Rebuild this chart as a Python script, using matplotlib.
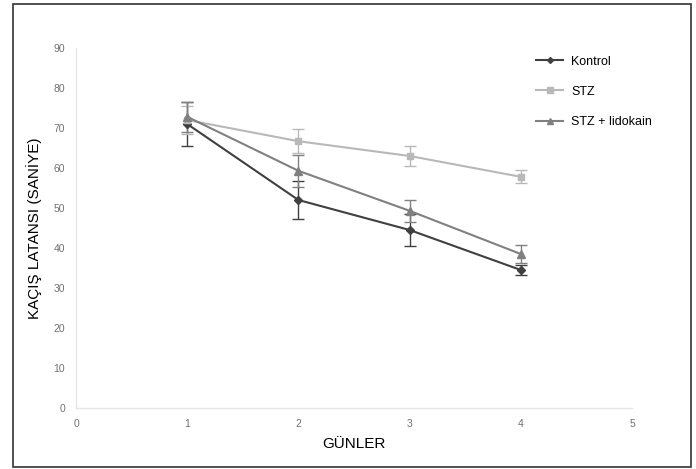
import matplotlib.pyplot as plt
from matplotlib.lines import Line2D
from matplotlib.patches import Rectangle

days = [1, 2, 3, 4]
series_names = ["Kontrol", "STZ", "STZ + lidokain"]

kontrol = [71.0, 52.0, 44.5, 34.5]
kontrol_err = [5.5, 4.8, 4.0, 1.2]

stz = [72.0, 66.7, 63.0, 57.8]
stz_err = [3.5, 3.0, 2.6, 1.6]

lidokain = [72.8, 59.3, 49.3, 38.5]
lidokain_err = [3.8, 4.0, 2.7, 2.2]

x_ticks = [0, 1, 2, 3, 4, 5]
y_ticks = [0, 10, 20, 30, 40, 50, 60, 70, 80, 90]

plt.rcParams['font.family'] = ['Liberation Sans', 'DejaVu Sans']

fig = plt.figure(figsize=(6.96, 4.69), dpi=100)
ax = fig.add_axes([76 / 696, 1 - 408 / 469, (632 - 76) / 696, (408 - 48) / 469])

styles = [
    (kontrol, kontrol_err, '#404040', 'D', 4),
    (stz, stz_err, '#b8b8b8', 's', 5),
    (lidokain, lidokain_err, '#808080', '^', 6),
]

handles = []
for name, (vals, errs, color, marker, ms) in zip(series_names, styles):
    ax.errorbar(days, vals, yerr=errs, color=color, marker=marker,
                markersize=ms, linewidth=1.5, elinewidth=1, capsize=4,
                capthick=1)
    # legend handle without the error bars
    handles.append(Line2D([], [], color=color, marker=marker,
                          markersize=ms - 1, linewidth=1.5, label=name))

ax.set_xlim(0, 5)
ax.set_ylim(0, 90)
ax.set_xticks(x_ticks)
ax.set_yticks(y_ticks)
ax.tick_params(length=0, labelsize=7.5, labelcolor='#707070', pad=8)

for side in ['top', 'right']:
    ax.spines[side].set_visible(False)
for side in ['left', 'bottom']:
    ax.spines[side].set_color('#e6e6e6')
    ax.spines[side].set_linewidth(1)

ax.set_xlabel("GÜNLER", fontsize=11, labelpad=6)
ax.set_ylabel("KAÇIŞ LATANSI (SANİYE)", fontsize=11, labelpad=8)

ax.legend(handles=handles, loc='upper left', bbox_to_anchor=(0.807, 1.01),
          frameon=False, fontsize=9, labelspacing=1.45, handlelength=2.2,
          handletextpad=0.6)

# outer border of the picture
fig.patches.append(Rectangle((13 / 696, 1 - 467 / 469), (691 - 13) / 696,
                             (467 - 4) / 469, transform=fig.transFigure,
                             fill=False, edgecolor='#333333', linewidth=1.2))

fig.savefig("out.png", dpi=100)
